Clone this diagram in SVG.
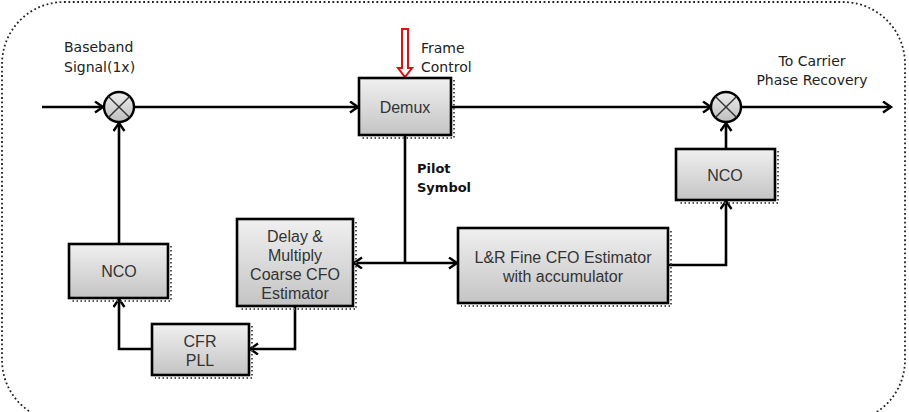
<svg xmlns="http://www.w3.org/2000/svg" width="909" height="412" viewBox="0 0 909 412">
<style>
.box{fill:url(#g);stroke:#000;stroke-width:2.6}
.sh{fill:none;stroke:#555;stroke-width:2;stroke-dasharray:1.5,2.5}
.bt{font-family:"Liberation Sans",Arial,sans-serif;font-size:16px;fill:#333;text-anchor:middle}
.hw{font-family:"DejaVu Sans",sans-serif;font-size:14px;fill:#222}
.pl{font-family:"DejaVu Sans",sans-serif;font-size:13px;font-weight:bold;fill:#111}
.ln{fill:none;stroke:#000;stroke-width:2.6}
.mx{fill:url(#gm);stroke:#000;stroke-width:2.4}
.x{stroke:#333;stroke-width:1.4}
</style>
<defs>
<linearGradient id="g" x1="0" y1="0" x2="0" y2="1"><stop offset="0" stop-color="#f0f0f0"/><stop offset="1" stop-color="#c4c4c4"/></linearGradient>
<linearGradient id="gm" x1="0" y1="0" x2="0" y2="1"><stop offset="0" stop-color="#eeeeee"/><stop offset="1" stop-color="#bdbdbd"/></linearGradient>
<marker id="a" markerUnits="userSpaceOnUse" markerWidth="14" markerHeight="14" refX="10" refY="6" orient="auto"><path d="M2,0.5 L10,6 L2,11.5" fill="none" stroke="#000" stroke-width="2.4"/></marker>
<marker id="as" markerUnits="userSpaceOnUse" markerWidth="14" markerHeight="14" refX="10" refY="6" orient="auto-start-reverse"><path d="M2,0.5 L10,6 L2,11.5" fill="none" stroke="#000" stroke-width="2.4"/></marker>
</defs>
<rect x="2" y="2" width="903" height="420" rx="62" ry="62" fill="none" stroke="#222" stroke-width="1.8" stroke-dasharray="1.8,2.6"/>

<g id="connectors">
<line class="ln" x1="42" y1="107" x2="103" y2="107" marker-end="url(#a)"/>
<line class="ln" x1="134" y1="107" x2="358" y2="107" marker-end="url(#a)"/>
<line class="ln" x1="451" y1="107" x2="711" y2="107" marker-end="url(#a)"/>
<line class="ln" x1="742" y1="107" x2="891" y2="107" marker-end="url(#a)"/>
<line class="ln" x1="726" y1="149" x2="726" y2="123" marker-end="url(#a)"/>
<polyline class="ln" points="668,265 726,265 726,201" marker-end="url(#a)"/>
<line class="ln" x1="405" y1="136" x2="405" y2="263"/>
<line class="ln" x1="354" y1="263" x2="457" y2="263" marker-start="url(#as)" marker-end="url(#a)"/>
<polyline class="ln" points="295,306 295,349 250,349" marker-end="url(#a)"/>
<polyline class="ln" points="152,349 119,349 119,299" marker-end="url(#a)"/>
<line class="ln" x1="119" y1="244" x2="119" y2="123" marker-end="url(#a)"/>
</g>

<g id="frame-control">
<path d="M402,29 L408,29 L408,68 L412,68 L405,77 L398,68 L402,68 Z" fill="#fff" stroke="#e01010" stroke-width="2"/>
<text class="hw" x="421" y="53">Frame</text>
<text class="hw" x="421" y="72">Control</text>
</g>

<g id="baseband-label">
<text class="hw" x="64" y="52">Baseband</text>
<text class="hw" x="64" y="72">Signal(1x)</text>
</g>

<g id="output-label">
<text class="hw" x="812" y="66" text-anchor="middle">To Carrier</text>
<text class="hw" x="812" y="85" text-anchor="middle">Phase Recovery</text>
</g>

<g id="pilot-label">
<text class="pl" x="417" y="173">Pilot</text>
<text class="pl" x="417" y="192">Symbol</text>
</g>

<g id="mixer1">
<circle class="mx" cx="119" cy="107" r="15"/>
<line class="x" x1="108.4" y1="96.4" x2="129.6" y2="117.6"/>
<line class="x" x1="129.6" y1="96.4" x2="108.4" y2="117.6"/>
</g>

<g id="mixer2">
<circle class="mx" cx="726" cy="107" r="15"/>
<line class="x" x1="715.4" y1="96.4" x2="736.6" y2="117.6"/>
<line class="x" x1="736.6" y1="96.4" x2="715.4" y2="117.6"/>
</g>

<g id="demux">
<path class="sh" d="M454,80 L454,138 L362,138"/>
<rect class="box" x="359" y="78" width="92" height="57"/>
<text class="bt" x="405" y="113">Demux</text>
</g>

<g id="nco-right">
<path class="sh" d="M778,151 L778,203 L679,203"/>
<rect class="box" x="676" y="149" width="99" height="51"/>
<text class="bt" x="725" y="181">NCO</text>
</g>

<g id="lr-estimator">
<path class="sh" d="M671,231 L671,306 L461,306"/>
<rect class="box" x="458" y="228" width="210" height="75"/>
<text class="bt" x="563" y="263">L&amp;R Fine CFO Estimator</text>
<text class="bt" x="563" y="282">with accumulator</text>
</g>

<g id="delay-multiply">
<path class="sh" d="M356,222 L356,309 L240,309"/>
<rect class="box" x="237" y="219" width="116" height="87"/>
<text class="bt" x="295" y="241.5">Delay &amp;</text>
<text class="bt" x="295" y="260.5">Multiply</text>
<text class="bt" x="295" y="279.5">Coarse CFO</text>
<text class="bt" x="295" y="298.5">Estimator</text>
</g>

<g id="nco-left">
<path class="sh" d="M171,246 L171,301 L72,301"/>
<rect class="box" x="69" y="244" width="99" height="54"/>
<text class="bt" x="119" y="277">NCO</text>
</g>

<g id="cfr-pll">
<path class="sh" d="M252,326 L252,378 L155,378"/>
<rect class="box" x="152" y="324" width="97" height="51"/>
<text class="bt" x="200" y="347">CFR</text>
<text class="bt" x="200" y="366">PLL</text>
</g>
</svg>
